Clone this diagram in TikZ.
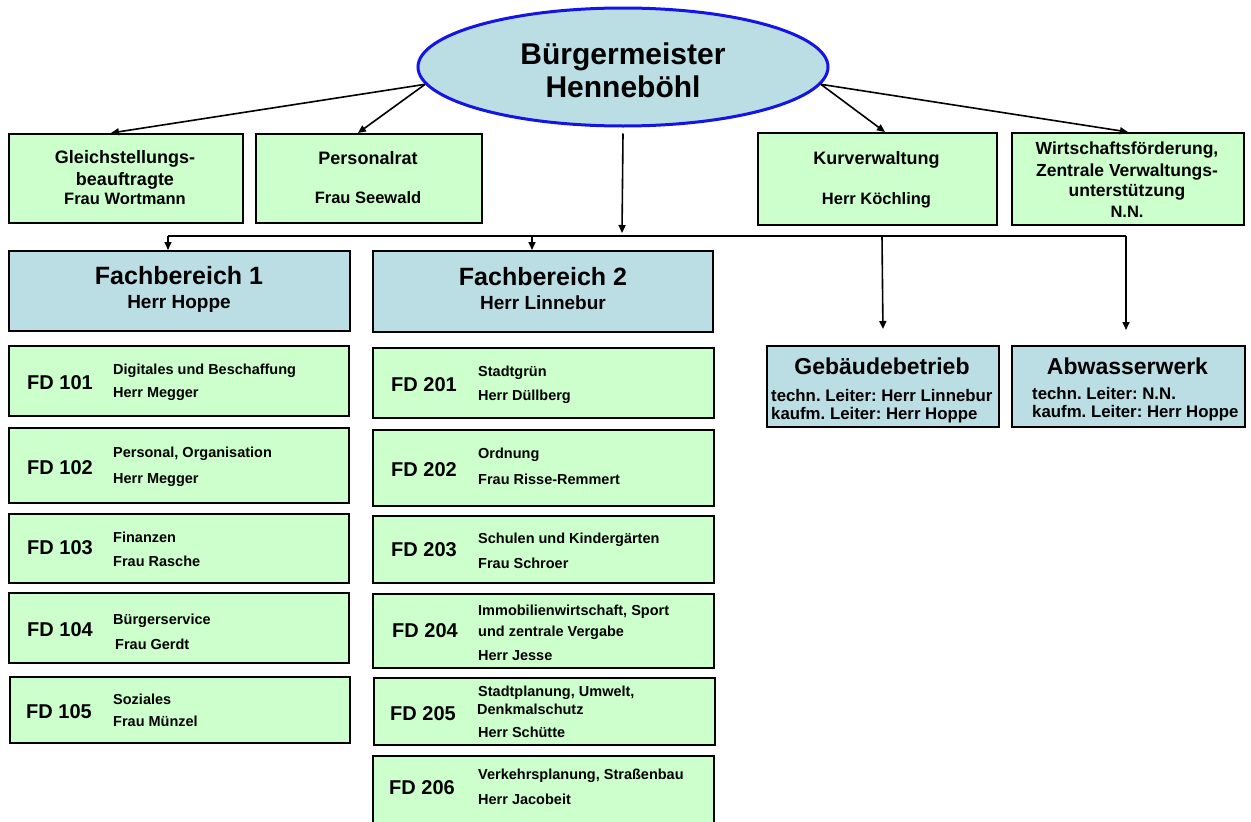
\documentclass[tikz,border=0pt]{standalone}
\usepackage{fontspec}
\setmainfont{Liberation Sans}
\usetikzlibrary{arrows.meta,shapes.geometric}
\definecolor{boxgreen}{RGB}{204,255,204}
\definecolor{boxblue}{RGB}{186,222,228}
\definecolor{ellblue}{RGB}{20,20,230}
\frenchspacing
\tikzset{
  gbox/.style={draw=black, line width=1.9pt, fill=boxgreen, anchor=north west, inner sep=0pt},
  bbox/.style={draw=black, line width=1.9pt, fill=boxblue, anchor=north west, inner sep=0pt},
  arr/.style={draw=black, line width=1.6pt, -{Triangle[length=8pt,width=7pt]}},
  conn/.style={draw=black, line width=1.6pt},
  txt/.style={anchor=base, inner sep=0pt, font=\frenchspacing\bfseries\fontsize{#1}{#1}\selectfont},
  ltxt/.style={anchor=base west, inner sep=0pt, font=\frenchspacing\bfseries\fontsize{#1}{#1}\selectfont},
  fdlab/.style={ltxt=20},
  fddesc/.style={ltxt=14.5}
}
\begin{document}
\begin{tikzpicture}[x=1pt,y=-1pt]
\useasboundingbox (0,0) rectangle (1251,822);
\fill[white] (0,0) rectangle (1251,822);
\clip (0,0) rectangle (1251,822);

% Bürgermeister
\node[ellipse, draw=ellblue, line width=3pt, fill=boxblue, minimum width=410pt, minimum height=118pt, inner sep=0pt] (bm) at (623,67) {};
\node[txt=30] (bm1) at (623,64) {Bürgermeister};
\node[txt=30] (bm2) at (623,97) {Henneböhl};

% top row boxes
\node[gbox, minimum width=234pt, minimum height=89pt] (gleich) at (8,133) {};
\node[txt=18] (gleich1) at (125,163) {Gleichstellungs-};
\node[txt=18] (gleich2) at (125,185) {beauftragte};
\node[txt=16.5] (gleich3) at (125,204) {Frau Wortmann};

\node[gbox, minimum width=226pt, minimum height=89pt] (pers) at (255,133) {};
\node[txt=18] (pers1) at (368,164) {Personalrat};
\node[txt=16.5] (pers2) at (368,203) {Frau Seewald};

\node[gbox, minimum width=239pt, minimum height=92pt] (kur) at (757,132) {};
\node[txt=18] (kur1) at (876.5,164) {Kurverwaltung};
\node[txt=16.5] (kur2) at (876.5,204) {Herr Köchling};

\node[gbox, minimum width=232pt, minimum height=92pt] (wirt) at (1011,132) {};
\node[txt=17.5] (wirt1) at (1127,154) {Wirtschaftsförderung,};
\node[txt=17.5] (wirt2) at (1127,176) {Zentrale Verwaltungs-};
\node[txt=17.5] (wirt3) at (1127,196) {unterstützung};
\node[txt=16.5] (wirt4) at (1127,217) {N.N.};

% arrows from Bürgermeister
\draw[arr] (bm.185) -- ([xshift=-15pt]gleich.north);
\draw[arr] (bm.185) -- ([xshift=-11pt]pers.north);
\draw[arr] (bm.355) -- ([xshift=7.5pt]kur.north);
\draw[arr] (bm.355) -- (wirt.north);

% Fachbereiche
\node[bbox, minimum width=341pt, minimum height=80pt] (fb1) at (8,250) {};
\node[txt=25] (fb1a) at (179,284) {Fachbereich 1};
\node[txt=19] (fb1b) at (179,308) {Herr Hoppe};

\node[bbox, minimum width=340pt, minimum height=81pt] (fb2) at (372,250) {};
\node[txt=25] (fb2a) at (543,285) {Fachbereich 2};
\node[txt=19] (fb2b) at (543,309) {Herr Linnebur};

% Eigenbetriebe
\node[bbox, minimum width=232pt, minimum height=81pt] (geb) at (766,345) {};
\node[txt=23] (geb1) at (882,374) {Gebäudebetrieb};
\node[ltxt=16.8] (geb2) at (771,401) {techn. Leiter: Herr Linnebur};
\node[ltxt=16.8] (geb3) at (771,419) {kaufm. Leiter: Herr Hoppe};

\node[bbox, minimum width=233pt, minimum height=81pt] (abw) at (1011,345) {};
\node[txt=23] (abw1) at (1127.5,374) {Abwasserwerk};
\node[ltxt=16.8] (abw2) at (1032,399) {techn. Leiter: N.N.};
\node[ltxt=16.8] (abw3) at (1032,417) {kaufm. Leiter: Herr Hoppe};

% distribution line
\coordinate (hub) at (622,236);
\coordinate (hl) at (168,236);
\coordinate (h2) at (532,236);
\coordinate (h3) at (882,236);
\coordinate (hr) at (1126,236);
\draw[arr] ([yshift=-6pt]bm.south) -- ([yshift=3pt]hub);
\draw[conn] (hl) -- (hr);
\draw[arr] (hl) -- (hl |- fb1.north);
\draw[arr] (h2) -- (h2 |- fb2.north);
\draw[arr] (h3) -- ([yshift=16pt]geb.north);
\draw[arr] (hr) -- ([yshift=15pt]hr |- abw.north);

% FD left column
\node[gbox, minimum width=340pt, minimum height=70pt] (fd101) at (8,345) {};
\node[fdlab] (fd101l) at (27,389) {FD 101};
\node[fddesc] (fd101a) at (113,374) {Digitales und Beschaffung};
\node[fddesc] (fd101b) at (113,397) {Herr Megger};

\node[gbox, minimum width=340pt, minimum height=75pt] (fd102) at (8,427) {};
\node[fdlab] (fd102l) at (27,474) {FD 102};
\node[fddesc] (fd102a) at (113,457) {Personal, Organisation};
\node[fddesc] (fd102b) at (113,483) {Herr Megger};

\node[gbox, minimum width=340pt, minimum height=69pt] (fd103) at (8,513) {};
\node[fdlab] (fd103l) at (27,554) {FD 103};
\node[fddesc] (fd103a) at (113,542) {Finanzen};
\node[fddesc] (fd103b) at (113,566) {Frau Rasche};

\node[gbox, minimum width=340pt, minimum height=70pt] (fd104) at (8,592) {};
\node[fdlab] (fd104l) at (27,636) {FD 104};
\node[fddesc] (fd104a) at (113,624) {Bürgerservice};
\node[fddesc] (fd104b) at (115,649) {Frau Gerdt};

\node[gbox, minimum width=340pt, minimum height=66pt] (fd105) at (9,676) {};
\node[fdlab] (fd105l) at (26,718) {FD 105};
\node[fddesc] (fd105a) at (113,704) {Soziales};
\node[fddesc] (fd105b) at (113,726) {Frau Münzel};

% FD right column
\node[gbox, minimum width=341pt, minimum height=70pt] (fd201) at (372,347) {};
\node[fdlab] (fd201l) at (391,391) {FD 201};
\node[fddesc] (fd201a) at (478,376) {Stadtgrün};
\node[fddesc] (fd201b) at (478,400) {Herr Düllberg};

\node[gbox, minimum width=341pt, minimum height=76pt] (fd202) at (372,429) {};
\node[fdlab] (fd202l) at (391,476) {FD 202};
\node[fddesc] (fd202a) at (478,458) {Ordnung};
\node[fddesc] (fd202b) at (478,484) {Frau Risse-Remmert};

\node[gbox, minimum width=341pt, minimum height=67pt] (fd203) at (372,515) {};
\node[fdlab] (fd203l) at (391,556) {FD 203};
\node[fddesc] (fd203a) at (478,543) {Schulen und Kindergärten};
\node[fddesc] (fd203b) at (478,568) {Frau Schroer};

\node[gbox, minimum width=341pt, minimum height=74pt] (fd204) at (372,593) {};
\node[fdlab] (fd204l) at (392,637) {FD 204};
\node[fddesc] (fd204a) at (478,615) {Immobilienwirtschaft, Sport};
\node[fddesc] (fd204b) at (478,636) {und zentrale Vergabe};
\node[fddesc] (fd204c) at (478,660) {Herr Jesse};

\node[gbox, minimum width=341pt, minimum height=67pt] (fd205) at (373,677) {};
\node[fdlab] (fd205l) at (390,720) {FD 205};
\node[fddesc] (fd205a) at (478,696) {Stadtplanung, Umwelt,};
\node[fddesc] (fd205b) at (477,714) {Denkmalschutz};
\node[fddesc] (fd205c) at (478,737) {Herr Schütte};

\node[gbox, minimum width=341pt, minimum height=80pt] (fd206) at (372,755) {};
\node[fdlab] (fd206l) at (389,794) {FD 206};
\node[fddesc] (fd206a) at (478,779) {Verkehrsplanung, Straßenbau};
\node[fddesc] (fd206b) at (478,804) {Herr Jacobeit};
\end{tikzpicture}
\end{document}
